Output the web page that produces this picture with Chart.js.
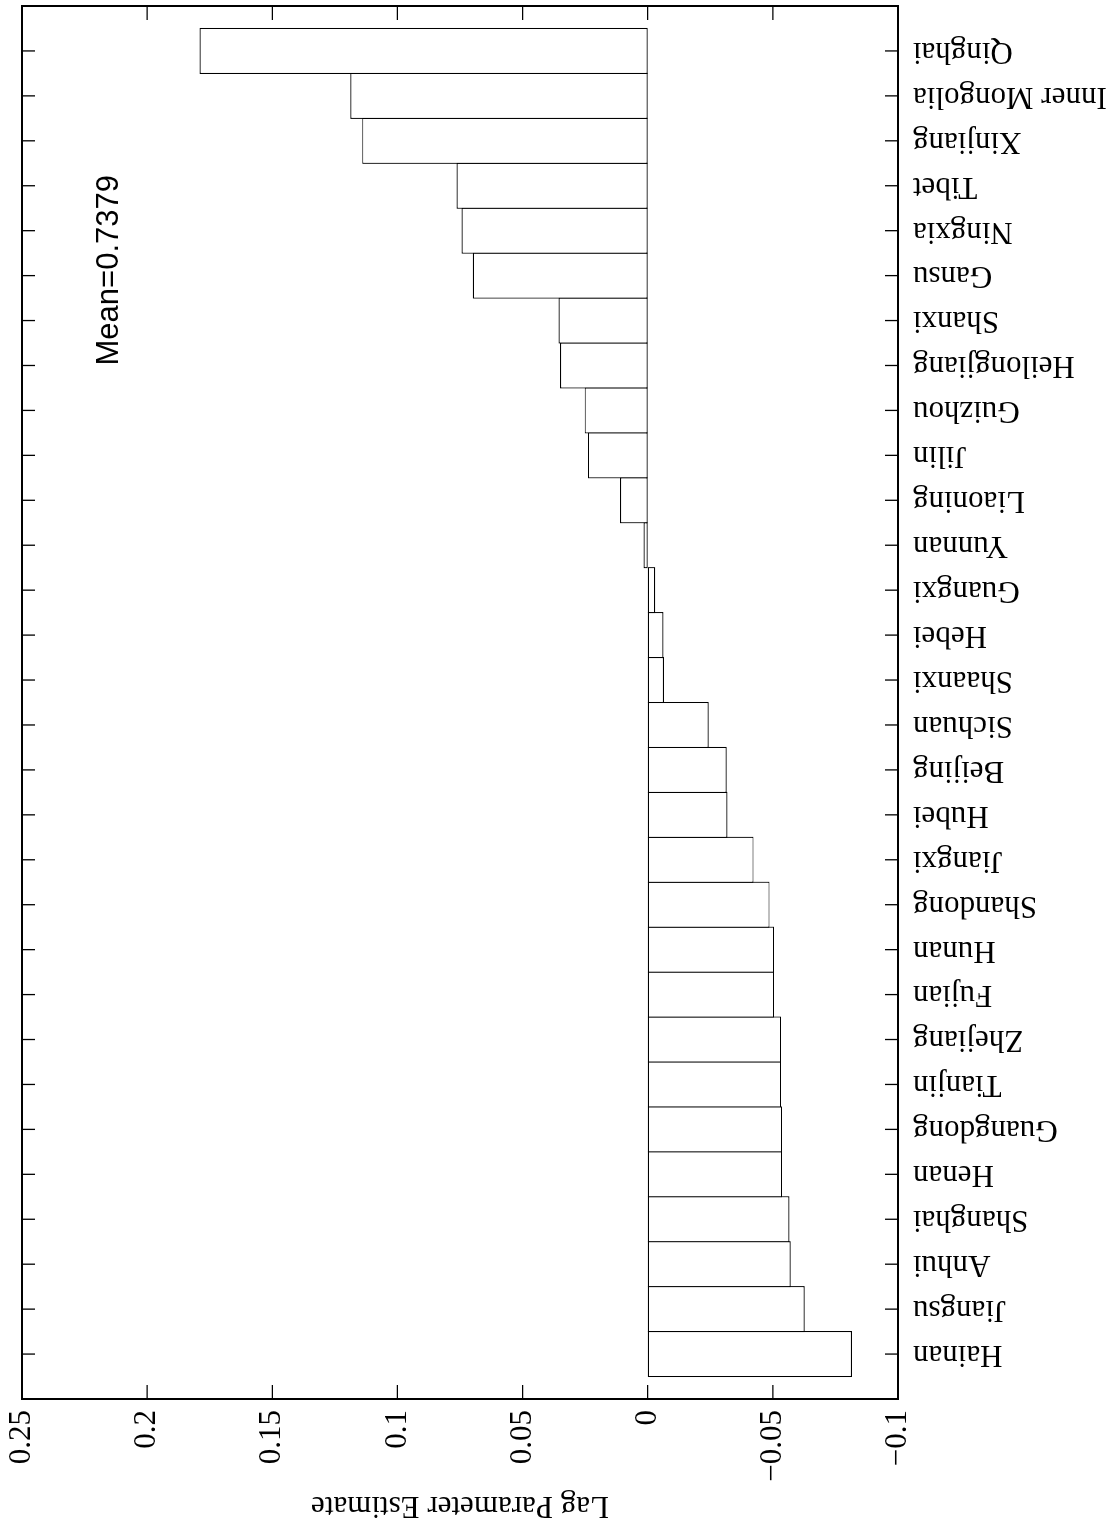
<!DOCTYPE html>
<html>
<head>
<meta charset="utf-8">
<script src="https://cdn.jsdelivr.net/npm/chart.js@4.4.1/dist/chart.umd.min.js"></script>
<style>
html,body{margin:0;padding:0;background:#fff;}
#wrap{position:relative;width:1117px;height:1524px;overflow:hidden;background:#fff;}
#c{position:absolute;left:0;top:0;transform-origin:0 0;transform:translate(0px,1524px) rotate(-90deg);}
</style>
</head>
<body>
<div id="wrap"><canvas id="c" width="1524" height="1117"></canvas></div>
<script>
// Categories (left-to-right in the unrotated chart)
const provinces = ['Hainan','Jiangsu','Anhui','Shanghai','Henan','Guangdong','Tianjin','Zhejiang','Fujian','Hunan',
  'Shandong','Jiangxi','Hubei','Beijing','Sichuan','Shaanxi','Hebei','Guangxi','Yunnan','Liaoning',
  'Jilin','Guizhou','Heilongjiang','Shanxi','Gansu','Ningxia','Tibet','Xinjiang','Inner Mongolia','Qinghai'];
// Lag parameter estimates
const lagEstimates = [-0.0816,-0.0627,-0.0571,-0.0566,-0.0537,-0.0537,-0.0533,-0.0533,-0.0505,-0.0505,
  -0.0487,-0.0423,-0.0319,-0.0316,-0.0244,-0.0065,-0.0063,-0.0030,0.0017,0.0111,
  0.0239,0.0252,0.0350,0.0356,0.0699,0.0744,0.0764,0.1141,0.1188,0.1791];
// Value-axis ticks
const valueTicks = [-0.1,-0.05,0,0.05,0.1,0.15,0.2,0.25];
const axisTitle = 'Lag Parameter Estimate';
const meanLabel = 'Mean=0.7379';
const meanAt = [23, 0.2118];

Chart.defaults.font.family = '"Liberation Serif","Times New Roman",serif';
Chart.defaults.font.size = 31;
Chart.defaults.color = '#000';

const BORDER = 1.2;

const framePlugin = {
  id: 'frame',
  afterDatasetsDraw(chart) {
    const {ctx, chartArea: a, scales: {x, y}} = chart;
    ctx.save();
    ctx.strokeStyle = '#000';
    ctx.lineWidth = 1.3;
    ctx.beginPath();
    x.ticks.forEach(t => {
      const px = x.getPixelForValue(t.value);
      ctx.moveTo(px, a.top); ctx.lineTo(px, a.top + 13);
      ctx.moveTo(px, a.bottom); ctx.lineTo(px, a.bottom - 13);
    });
    y.ticks.forEach(t => {
      const py = y.getPixelForValue(t.value);
      ctx.moveTo(a.left, py); ctx.lineTo(a.left + 14, py);
      ctx.moveTo(a.right, py); ctx.lineTo(a.right - 14, py);
    });
    ctx.stroke();
    ctx.lineWidth = 2;
    ctx.strokeRect(a.left, a.top, a.right - a.left, a.bottom - a.top);
    ctx.fillStyle = '#000';
    ctx.font = '31px "Liberation Sans", Arial, sans-serif';
    ctx.textAlign = 'left';
    ctx.textBaseline = 'alphabetic';
    ctx.fillText(meanLabel, x.getPixelForValue(meanAt[0]), y.getPixelForValue(meanAt[1]));
    ctx.restore();
  }
};

new Chart(document.getElementById('c'), {
  type: 'bar',
  data: {
    datasets: [{
      data: provinces.map((p, i) => ({x: i + 1, y: lagEstimates[i]})),
      backgroundColor: '#fff',
      borderColor: '#000',
      borderWidth: BORDER,
      borderSkipped: false,
      // bars touch; widen by one border so neighbouring outlines coincide
      barPercentage: ctx => {
        const s = ctx.chart.scales.x;
        const unit = Math.abs(s.getPixelForValue(2) - s.getPixelForValue(1)) || 45;
        return (unit + BORDER) / unit;
      },
      categoryPercentage: 1,
      inflateAmount: 0
    }]
  },
  options: {
    responsive: false,
    animation: false,
    devicePixelRatio: 1,
    layout: {padding: {left: 0, right: 6, top: 22, bottom: 0}},
    plugins: {legend: {display: false}, tooltip: {enabled: false}, title: {display: false}},
    scales: {
      x: {
        type: 'linear',
        min: 0, max: 31,
        offset: false,
        grid: {display: false, drawTicks: false, tickLength: 0, offset: false},
        border: {display: false},
        afterBuildTicks: s => { s.ticks = provinces.map((p, i) => ({value: i + 1})); },
        ticks: {
          autoSkip: false,
          minRotation: 90, maxRotation: 90,
          padding: 15,
          font: {size: 31},
          callback: v => provinces[Math.round(v) - 1]
        },
        afterFit: s => { s.height = 219; s.paddingLeft = 0; s.paddingRight = 0; }
      },
      y: {
        type: 'linear',
        min: -0.1, max: 0.25,
        grid: {display: false, drawTicks: false, tickLength: 0},
        border: {display: false},
        afterBuildTicks: s => { s.ticks = valueTicks.map(v => ({value: v})); },
        ticks: {
          padding: 11,
          font: {size: 31},
          callback: v => v === 0 ? '0' : String(Math.round(v * 100) / 100).replace('-', '\u2212')
        },
        title: {display: true, text: axisTitle, font: {size: 31}, padding: {top: 0, bottom: 0}},
        afterFit: s => { s.width = 125; s.paddingTop = 0; s.paddingBottom = 0; }
      }
    }
  },
  plugins: [framePlugin]
});
</script>
</body>
</html>
